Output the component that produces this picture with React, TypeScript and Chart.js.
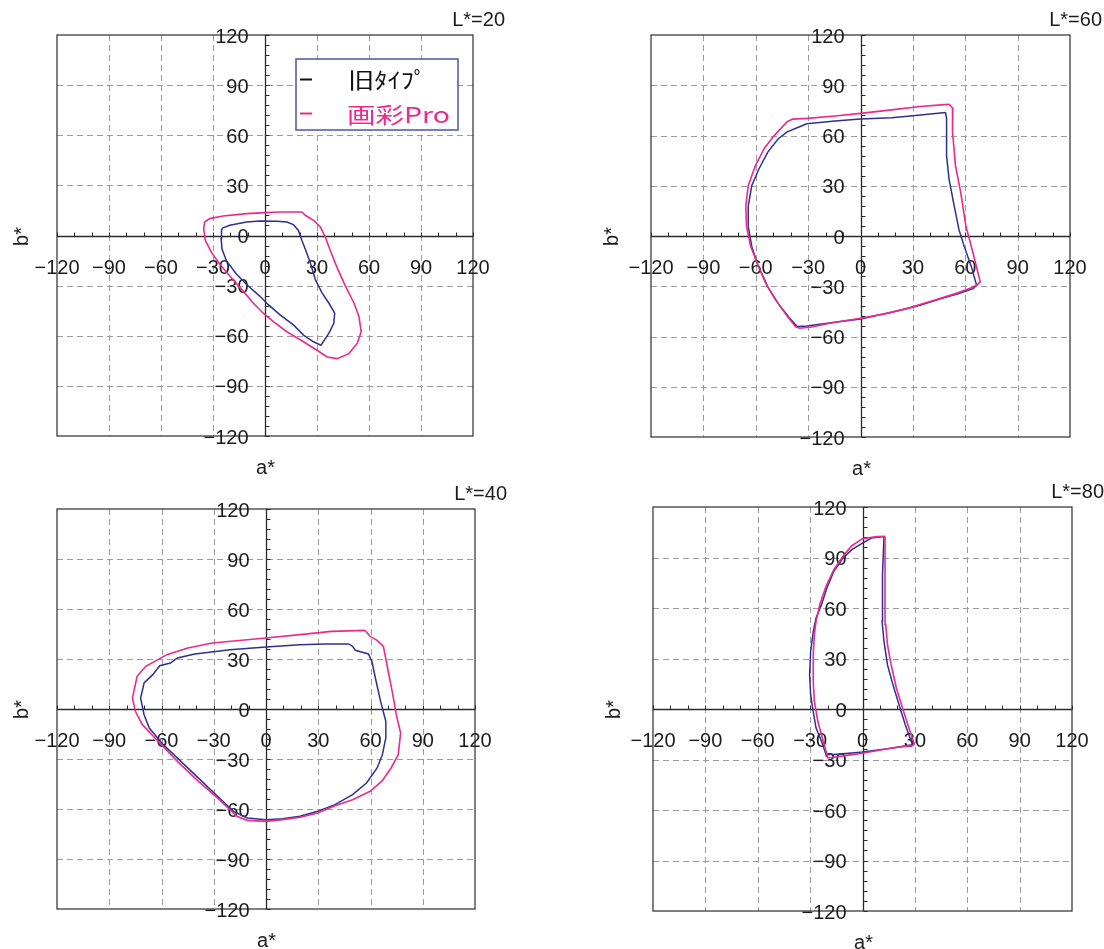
import React, { useEffect, useRef } from "react";
import { Chart, registerables } from "chart.js";

Chart.register(...registerables);

// ---------- axis definition ----------
const AXIS_MIN = -120;
const AXIS_MAX = 120;
const MAJOR_TICKS = [-120, -90, -60, -30, 0, 30, 60, 90, 120];
const TICK_LABELS = ["−120", "−90", "−60", "−30", "0", "30", "60", "90", "120"];
const X_MINOR_STEP = 10;
const Y_MINOR_STEP = 6;
const SERIES_NAMES = ["旧ﾀｲﾌﾟ", "画彩Pro"];
const PANEL_TITLES = ["L*=20", "L*=60", "L*=40", "L*=80"];

// ---------- data: [a*, b*] outlines ----------
const L20_OLD: number[][] = [
  [-24.6, 4.4], [-20.3, 6.1], [-10.6, 8.1], [-2.9, 8.7], [6.8, 8.5], [12.6, 8.1], [16.4, 6.5],
  [19.3, 3.0], [21.3, -3.0], [23.2, -8.1], [26.1, -16.2], [29, -26.3], [32.9, -34.3], [36.8, -40.4],
  [40.2, -46.5], [39.7, -52.5], [36.8, -58.6], [32.3, -65.7], [28, -63.6], [22.2, -59.6], [16.4, -53.5],
  [8.7, -47.5], [1.9, -41.4], [-2.9, -36.4], [-10.6, -29.3], [-16.4, -23.2], [-22.2, -15.2],
  [-24.8, -8.1], [-25.3, -2], [-25.1, 3.0],
];
const L20_PRO: number[][] = [
  [-34.8, 8.1], [-31.9, 10.1], [-24.2, 11.7], [-10.6, 13.1], [0, 13.7], [8.7, 14.1], [21.3, 14.1],
  [23.2, 12.1], [28, 9.1], [31.9, 5.1], [34.8, -1], [37.7, -9.1], [41.6, -19.2], [46.4, -30.3],
  [51.3, -40.4], [54.2, -48.5], [55.5, -57.6], [53.2, -64.6], [48.4, -70.7], [41.6, -73.7],
  [35.8, -72.7], [30, -68.7], [22.2, -63.6], [12.6, -57.6], [4.8, -51.5], [-1, -46.5], [-6.8, -40.4],
  [-12.6, -33.3], [-20.3, -24.2], [-26.1, -17.2], [-30.9, -10.1], [-34.4, -3.0], [-35.4, 4.0],
];
const L60_OLD: number[][] = [
  [48.7, 73.8], [30, 71.8], [17.8, 70.6], [0, 69.8], [-14.6, 68.6], [-30.8, 67], [-34.9, 65.2],
  [-42, 62.2], [-47.1, 58.1], [-53.1, 50.1], [-58.2, 40], [-62.3, 30], [-64.3, 17.9], [-64.3, 5.8],
  [-62.3, -6.2], [-59.2, -16.3], [-53.1, -30.4], [-47.1, -40.4], [-41, -48.5], [-36.3, -54.1],
  [-30.8, -53.7], [-14.6, -51.5], [0, -49.5], [17.8, -45.5], [34.1, -41.4], [46.2, -37.4],
  [56.4, -34.4], [64.5, -31.4], [66.5, -29.4], [63.5, -18.3], [59.4, -6.2], [56.4, 3.8],
  [53.3, 19.9], [50.7, 34], [49.3, 48.1], [49.3, 70.2],
];
const L60_PRO: number[][] = [
  [50.7, 78.7], [52.9, 76.3], [52.7, 62.2], [54.4, 42], [57.4, 26], [60.4, 5.8], [64.5, -10.3],
  [68.6, -27.4], [66.5, -29.4], [62.5, -31.4], [54.4, -34.4], [42.2, -38.4], [26, -43.5],
  [13.8, -46.5], [0, -49.1], [-14.6, -51.5], [-28.8, -54.5], [-34.9, -55.1], [-37.3, -54.1],
  [-43, -46.5], [-49.1, -37.4], [-54.2, -28.4], [-59.2, -16.3], [-62.9, -6.2], [-65.3, 5.8],
  [-65.7, 17.9], [-64.3, 30], [-60.2, 42], [-55.2, 52.1], [-50.1, 59.2], [-42, 68.2], [-38.9, 69.8],
  [-30.8, 70.2], [-14.6, 71.6], [0, 73.2], [17.8, 75.3], [34.1, 77.3], [46.2, 78.3],
];
const L40_OLD: number[][] = [
  [47.7, 39], [49.7, 37.6], [51.3, 35.2], [58.8, 33], [60.8, 28.6], [62.8, 18.6], [65.8, 4.6],
  [68.8, -7.4], [68.8, -17.4], [66.8, -27.4], [63.8, -35.4], [57.7, -44.4], [49.7, -51.4],
  [39.6, -57.4], [29.6, -61.4], [19.5, -64.4], [9.5, -65.8], [0, -66.4], [-10.7, -65.4],
  [-18.7, -61.4], [-26.8, -53.4], [-36.8, -43.4], [-46.9, -33.4], [-59, -21.4], [-67, -11.4],
  [-70, -3.4], [-72, 6.6], [-70, 15.6], [-65, 20.6], [-61, 26], [-54.9, 27.6], [-50.9, 30.6],
  [-40.8, 33], [-20.7, 35.6], [0, 37.2], [19.5, 38.6], [33.6, 39],
];
const L40_PRO: number[][] = [
  [56.7, 47.2], [59.8, 43.6], [63.8, 41.2], [67.4, 37.6], [69.8, 24.6], [72.8, 8.6], [74.8, -3.4],
  [77.3, -14.4], [75.9, -27.4], [71.8, -35.4], [66.8, -43], [59.8, -49.4], [49.7, -54.4],
  [39.6, -58], [29.6, -62.4], [19.5, -65], [9.5, -66.4], [0, -67.4], [-10.7, -66.8], [-16.7, -64.4],
  [-26.8, -54.4], [-38.8, -43.4], [-50.9, -31.4], [-61, -20.4], [-71, -9.4], [-75, -1.4],
  [-76.7, 6.6], [-74, 19.6], [-69, 25.6], [-56.9, 32.6], [-44.9, 36.6], [-30.8, 39.6], [0, 42.6],
  [19.5, 44.6], [37.6, 46.6],
];
const L80_OLD: number[][] = [
  [12.3, 102.4], [5.1, 101.6], [0, 98.6], [-6.1, 94.7], [-11.2, 89.7], [-16.4, 81.8], [-20.4, 71.9],
  [-23.5, 62], [-26.6, 54.1], [-28.2, 46.1], [-29.7, 34.3], [-30.3, 20.4], [-29.7, 8.5],
  [-28.6, 0.6], [-26.6, -11.3], [-23.5, -19.2], [-20.9, -27.1], [-16.4, -27.1], [-6.1, -26.1],
  [0, -25.5], [14.3, -23.6], [28.6, -21.2], [24.5, -9.3], [21.5, 0.6], [17.4, 14.5], [14.3, 26.3],
  [12.3, 40.2], [11.2, 52.1], [11.2, 64], [11.7, 79.8],
];
const L80_PRO: number[][] = [
  [12.9, 102.6], [8.2, 102.4], [0, 101.2], [-6.1, 97], [-11.2, 90.7], [-16.4, 82.8], [-20.9, 72.9],
  [-24.5, 62], [-26.6, 52.1], [-27.6, 44.2], [-28.2, 32.3], [-28.2, 16.4], [-27.6, 4.6],
  [-25.6, -7.3], [-22.5, -19.2], [-19.8, -29.1], [-16.4, -28.7], [-6.1, -27.1], [0, -26.3],
  [14.3, -23.6], [28.6, -21.6], [29.7, -20.8], [26.6, -11.3], [23.5, -1.4], [19.4, 12.5],
  [16.4, 26.3], [14.3, 38.2], [13.3, 50.1], [12.9, 64],
];

// ---------- styling ----------
const COLOR_OLD = "#2e3192";
const COLOR_PRO = "#ec2a8c";
const FONT = '20px "Liberation Sans", Arial, sans-serif';
const CJK_FONT = '22px "Noto Sans CJK JP", sans-serif';

type PanelCfg = {
  title: string;
  oldData: number[][];
  proData: number[][];
  left: number;
  top: number;
  width: number;
  height: number;
  padding: { left: number; right: number; top: number; bottom: number };
  yTitleX: number;
  legend: boolean;
};

const PANELS: PanelCfg[] = [
  { title: PANEL_TITLES[0], oldData: L20_OLD, proData: L20_PRO, left: 0, top: 0, width: 552, height: 475,
    padding: { left: 57, right: 79, top: 35, bottom: 39 }, yTitleX: 22, legend: true },
  { title: PANEL_TITLES[1], oldData: L60_OLD, proData: L60_PRO, left: 552, top: 0, width: 552, height: 475,
    padding: { left: 99, right: 34, top: 35, bottom: 38 }, yTitleX: 60, legend: false },
  { title: PANEL_TITLES[2], oldData: L40_OLD, proData: L40_PRO, left: 0, top: 475, width: 552, height: 474,
    padding: { left: 57, right: 77, top: 34, bottom: 40 }, yTitleX: 22, legend: false },
  { title: PANEL_TITLES[3], oldData: L80_OLD, proData: L80_PRO, left: 552, top: 475, width: 552, height: 474,
    padding: { left: 101, right: 32, top: 32, bottom: 38 }, yTitleX: 62, legend: false },
];

function fittedText(ctx: CanvasRenderingContext2D, text: string, x: number, y: number, w: number) {
  const m = ctx.measureText(text).width || 1;
  ctx.save();
  ctx.translate(x, y);
  ctx.scale(w / m, 1);
  ctx.textAlign = "left";
  ctx.fillText(text, 0, 0);
  ctx.restore();
}

const decorPlugin = {
  id: "gamutDecor",
  beforeDatasetsDraw(chart: any, _args: any, opts: any) {
    const { ctx, chartArea: ca } = chart;
    const xs = chart.scales.x;
    const ys = chart.scales.y;
    const x0 = Math.round(xs.getPixelForValue(0)) + 0.5;
    const y0 = Math.round(ys.getPixelForValue(0)) + 0.5;
    ctx.save();
    // dashed grid
    ctx.strokeStyle = "#9c9c9c";
    ctx.lineWidth = 1;
    ctx.setLineDash([6, 4]);
    for (const v of MAJOR_TICKS) {
      if (v === 0 || Math.abs(v) === AXIS_MAX) continue;
      const px = Math.round(xs.getPixelForValue(v)) + 0.5;
      const py = Math.round(ys.getPixelForValue(v)) + 0.5;
      ctx.beginPath();
      ctx.moveTo(px, ca.top);
      ctx.lineTo(px, ca.bottom);
      ctx.moveTo(ca.left, py);
      ctx.lineTo(ca.right, py);
      ctx.stroke();
    }
    ctx.setLineDash([]);
    // frame
    ctx.strokeStyle = "#3c3c3c";
    ctx.lineWidth = 1.3;
    ctx.strokeRect(ca.left, ca.top, ca.right - ca.left, ca.bottom - ca.top);
    // central axes
    ctx.strokeStyle = "#2a2a2a";
    ctx.lineWidth = 1.3;
    ctx.beginPath();
    ctx.moveTo(ca.left, y0);
    ctx.lineTo(ca.right, y0);
    ctx.moveTo(x0, ca.top);
    ctx.lineTo(x0, ca.bottom);
    ctx.stroke();
    // minor ticks
    ctx.lineWidth = 1;
    ctx.beginPath();
    for (let v = AXIS_MIN; v <= AXIS_MAX; v += X_MINOR_STEP) {
      const px = Math.round(xs.getPixelForValue(v)) + 0.5;
      ctx.moveTo(px, y0);
      ctx.lineTo(px, y0 - 4);
    }
    for (let v = AXIS_MIN; v <= AXIS_MAX; v += Y_MINOR_STEP) {
      const py = Math.round(ys.getPixelForValue(v)) + 0.5;
      ctx.moveTo(x0, py);
      ctx.lineTo(x0 + 4, py);
    }
    ctx.stroke();
    // tick labels
    ctx.fillStyle = "#1c1c1c";
    ctx.font = FONT;
    ctx.textBaseline = "middle";
    ctx.textAlign = "center";
    MAJOR_TICKS.forEach((v, i) => {
      ctx.fillText(TICK_LABELS[i], xs.getPixelForValue(v), y0 + 32);
    });
    ctx.textAlign = "right";
    MAJOR_TICKS.forEach((v, i) => {
      ctx.fillText(TICK_LABELS[i], x0 - 17, ys.getPixelForValue(v) + 2);
    });
    // axis titles
    ctx.textAlign = "center";
    ctx.fillText("a*", x0, ca.bottom + 32);
    ctx.save();
    ctx.translate(opts.yTitleX, y0);
    ctx.rotate(-Math.PI / 2);
    ctx.fillText("b*", 0, 0);
    ctx.restore();
    // panel title
    ctx.textAlign = "right";
    ctx.fillText(opts.title, ca.right + 32, ca.top - 15);
    ctx.restore();
  },
  afterDatasetsDraw(chart: any, _args: any, opts: any) {
    if (!opts.legend) return;
    const { ctx } = chart;
    ctx.save();
    ctx.fillStyle = "#ffffff";
    ctx.fillRect(296, 59, 162, 71);
    ctx.strokeStyle = "#4b54a8";
    ctx.lineWidth = 1.5;
    ctx.strokeRect(296, 59, 162, 71);
    ctx.lineWidth = 2;
    ctx.strokeStyle = "#111111";
    ctx.beginPath();
    ctx.moveTo(300, 79.5);
    ctx.lineTo(312, 79.5);
    ctx.stroke();
    ctx.strokeStyle = COLOR_PRO;
    ctx.beginPath();
    ctx.moveTo(300, 113.5);
    ctx.lineTo(312, 113.5);
    ctx.stroke();
    ctx.font = CJK_FONT;
    ctx.textBaseline = "middle";
    ctx.fillStyle = "#111111";
    fittedText(ctx, SERIES_NAMES[0], 348, 80, 79);
    ctx.fillStyle = COLOR_PRO;
    fittedText(ctx, SERIES_NAMES[1], 347, 115, 103);
    ctx.restore();
  },
};

function toPoints(arr: number[][]) {
  const pts = arr.map(([a, b]) => ({ x: a, y: b }));
  if (pts.length) pts.push({ ...pts[0] });
  return pts;
}

function Panel({ cfg }: { cfg: PanelCfg }) {
  const ref = useRef<HTMLCanvasElement | null>(null);
  useEffect(() => {
    if (!ref.current) return;
    const chart = new Chart(ref.current, {
      type: "scatter",
      data: {
        datasets: [
          {
            label: SERIES_NAMES[1],
            data: toPoints(cfg.proData),
            showLine: true,
            borderColor: COLOR_PRO,
            backgroundColor: COLOR_PRO,
            borderWidth: 1.6,
            pointRadius: 0,
            tension: 0,
          },
          {
            label: SERIES_NAMES[0],
            data: toPoints(cfg.oldData),
            showLine: true,
            borderColor: COLOR_OLD,
            backgroundColor: COLOR_OLD,
            borderWidth: 1.5,
            pointRadius: 0,
            tension: 0,
          },
        ],
      },
      options: {
        responsive: false,
        animation: false,
        layout: { padding: cfg.padding },
        scales: {
          x: { type: "linear", min: AXIS_MIN, max: AXIS_MAX, display: false },
          y: { type: "linear", min: AXIS_MIN, max: AXIS_MAX, display: false },
        },
        plugins: {
          legend: { display: false },
          tooltip: { enabled: false },
          gamutDecor: { title: cfg.title, yTitleX: cfg.yTitleX, legend: cfg.legend },
        } as any,
      },
      plugins: [decorPlugin as any],
    });
    return () => chart.destroy();
  }, [cfg]);
  return (
    <canvas
      ref={ref}
      width={cfg.width}
      height={cfg.height}
      style={{ position: "absolute", left: cfg.left, top: cfg.top, width: cfg.width, height: cfg.height, display: "block" }}
    />
  );
}

export default function App() {
  return (
    <div style={{ position: "absolute", left: 0, top: 0, width: 1104, height: 949, background: "#ffffff", overflow: "hidden" }}>
      {PANELS.map((p, i) => (
        <Panel key={i} cfg={p} />
      ))}
    </div>
  );
}
